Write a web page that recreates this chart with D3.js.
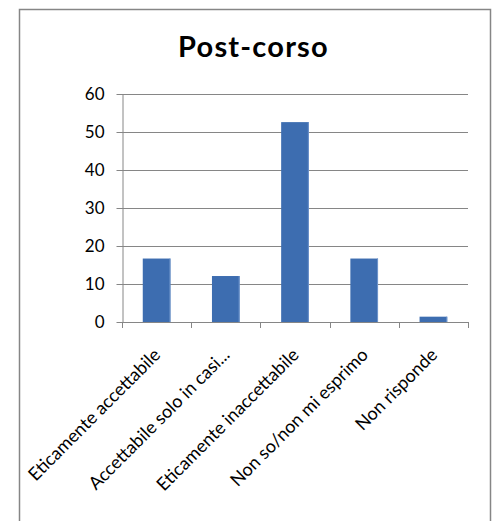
<!DOCTYPE html>
<html>
<head>
<meta charset="utf-8">
<script src="https://cdn.jsdelivr.net/npm/d3@7/dist/d3.min.js"></script>
<style>
  html, body { margin: 0; padding: 0; background: #ffffff; }
  svg { display: block; }
  text { font-family: Lato, "Open Sans", sans-serif; fill: #000; }
</style>
</head>
<body>
<script>
// Survey answers after the course (percentages)
const categories = [
  "Eticamente accettabile",
  "Accettabile solo in casi...",
  "Eticamente inaccettabile",
  "Non so/non mi esprimo",
  "Non risponde"
];
const values = [16.7, 12.1, 52.6, 16.7, 1.4];
const yTicks = [0, 10, 20, 30, 40, 50, 60];
const title = "Post-corso";

const W = 498, H = 521;
const plot = { left: 122, right: 468, top: 94, bottom: 322 };

const svg = d3.select("body").append("svg")
  .attr("width", W).attr("height", H);

// chart frame
svg.append("rect")
  .attr("x", 19.5).attr("y", 9.5)
  .attr("width", 471).attr("height", 530)
  .attr("fill", "#fff")
  .attr("stroke", "#868686").attr("stroke-width", 1.5);

svg.append("text")
  .attr("x", 253.5).attr("y", 57)
  .attr("text-anchor", "middle")
  .attr("font-size", 29).attr("font-weight", "bold")
  .attr("letter-spacing", 1.2)
  .text(title);

const x = d3.scaleBand()
  .domain(categories)
  .range([plot.left, plot.right])
  .paddingInner(0.6).paddingOuter(0.3);

const y = d3.scaleLinear().domain([0, 60]).range([plot.bottom, plot.top]);

// horizontal gridlines
svg.append("g")
  .selectAll("line")
  .data(yTicks.filter(t => t > 0))
  .join("line")
  .attr("x1", plot.left).attr("x2", plot.right)
  .attr("y1", d => Math.round(y(d)) + 0.5).attr("y2", d => Math.round(y(d)) + 0.5)
  .attr("stroke", "#868686").attr("stroke-width", 1);

// y axis
const yAxis = svg.append("g")
  .attr("transform", `translate(${plot.left + 0.5},0)`)
  .call(d3.axisLeft(y).tickValues(yTicks).tickSize(6).tickPadding(12).tickSizeOuter(0));
yAxis.select(".domain").attr("stroke", "#868686");
yAxis.selectAll(".tick line").attr("stroke", "#868686");
yAxis.selectAll(".tick text")
  .attr("font-family", "Lato, sans-serif")
  .attr("font-size", 17).attr("fill", "#000");

// bars
const bars = svg.append("g")
  .selectAll("g")
  .data(values)
  .join("g");
bars.append("rect")
  .attr("x", (d, i) => x(categories[i]))
  .attr("y", d => y(d))
  .attr("width", x.bandwidth())
  .attr("height", d => y(0) - y(d))
  .attr("fill", "#3d6db0");
// light edge on the right side of each bar
bars.append("rect")
  .attr("x", (d, i) => x(categories[i]) + x.bandwidth() - 1)
  .attr("y", d => y(d))
  .attr("width", 1)
  .attr("height", d => y(0) - y(d))
  .attr("fill", "#6f95cc");

// x axis baseline with ticks at category boundaries
const step = (plot.right - plot.left) / categories.length;
const bounds = d3.range(categories.length + 1).map(i => plot.left + i * step);
svg.append("line")
  .attr("x1", plot.left).attr("x2", plot.right)
  .attr("y1", plot.bottom + 0.5).attr("y2", plot.bottom + 0.5)
  .attr("stroke", "#868686");
svg.append("g")
  .selectAll("line")
  .data(bounds)
  .join("line")
  .attr("x1", d => Math.round(d) + 0.5).attr("x2", d => Math.round(d) + 0.5)
  .attr("y1", plot.bottom).attr("y2", plot.bottom + 6)
  .attr("stroke", "#868686");

// rotated category labels
svg.append("g")
  .selectAll("text")
  .data(categories)
  .join("text")
  .attr("transform", d => `translate(${x(d) + x.bandwidth() / 2 + 5},${plot.bottom + 34}) rotate(-45)`)
  .attr("text-anchor", "end")
  .attr("font-size", 18)
  .text(d => d);
</script>
</body>
</html>
